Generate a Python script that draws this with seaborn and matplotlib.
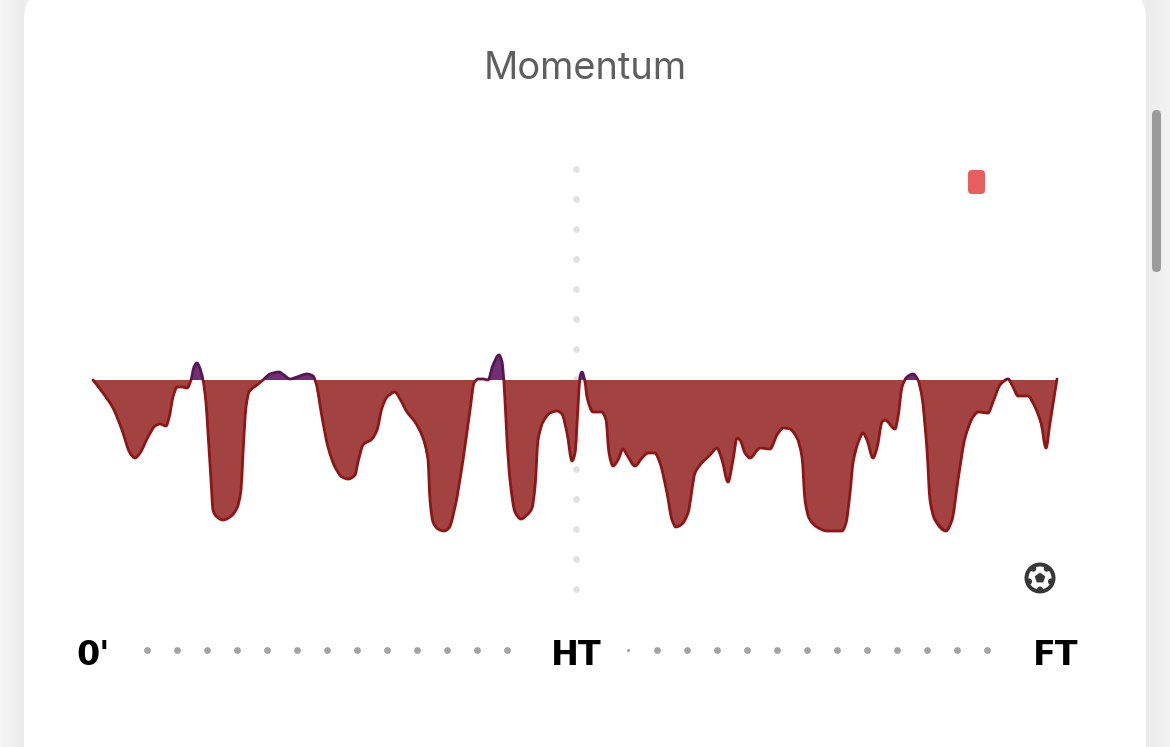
# Momentum chart from a match page, with the phone page chrome around it

import numpy as np
import pandas as pd
import matplotlib
matplotlib.use("Agg")
import matplotlib.pyplot as plt
import seaborn as sns
from matplotlib.patches import Circle, FancyBboxPatch, PathPatch, Rectangle, RegularPolygon
from matplotlib.path import Path

minutes = [
    0.0, 1.0, 2.0, 2.9, 3.7, 4.2, 4.7, 5.5, 6.2, 6.7, 7.3, 7.6, 8.0, 8.4, 8.9, 9.4, 9.8,
    10.1, 10.4, 10.6, 11.0, 11.3, 11.5, 11.8, 12.0, 12.4, 13.0, 13.7, 14.4, 14.8, 15.0,
    15.3, 15.6, 16.4, 17.0, 17.7, 18.6, 19.1, 19.7, 20.4, 21.4, 22.0, 22.3, 22.9, 23.5,
    24.2, 24.9, 25.5, 26.2, 26.5, 27.0, 27.9, 28.4, 28.9, 29.4, 30.2, 30.7, 31.4, 32.2,
    33.0, 33.5, 33.7, 34.0, 34.5, 35.1, 35.6, 36.2, 37.0, 37.7, 38.1, 38.5, 39.0, 39.5,
    40.0, 40.6, 40.9, 41.1, 41.4, 41.7, 42.2, 42.8, 43.4, 43.9, 44.2, 44.5, 45.0, 45.7,
    46.4, 46.9, 47.4, 47.9, 48.2, 48.5, 48.7, 48.9, 49.2, 49.4, 50.0, 50.9, 51.3, 51.6,
    52.0, 52.5, 53.0, 53.4, 54.2, 54.9, 55.5, 56.2, 56.7, 57.4, 57.9, 58.3, 58.9, 59.5,
    60.2, 60.7, 61.7, 62.4, 62.9, 63.5, 64.0, 64.4, 64.7, 65.2, 65.7, 66.7, 67.7, 68.4,
    69.0, 69.7, 70.4, 70.9, 71.2, 71.6, 72.4, 73.4, 74.9, 75.3, 75.7, 76.0, 76.5, 77.0,
    77.4, 78.0, 78.4, 78.9, 79.2, 80.2, 80.5, 80.9, 81.4, 82.0, 82.5, 82.9, 83.4, 83.7,
    84.2, 85.3, 85.9, 86.5, 87.2, 88.0, 88.5, 89.5, 90.0, 90.7, 91.5, 92.0, 92.5, 93.5,
    94.2, 94.8, 95.3, 95.7, 96.4,
]
momentum = [
    0, -6.5, -14, -25, -36.5, -39, -36.5, -28.5, -23, -22, -23, -19, -8.5, -3.5, -3.5, -4, 0,
    6.5, 8.5, 7, 0, -11.5, -26.5, -50, -65, -68.5, -70, -68.5, -64, -55, -36.5,
    -13.5, -6, -2.5, 0, 3, 4, 2.5, 0.5, 1.5, 3, 2, -1.5, -18.5, -33.5,
    -43.5, -48.5, -49.5, -47.5, -41, -32.5, -29.5, -25, -14, -8.5, -6, -9.5, -16, -21,
    -29, -40, -60, -71, -74.5, -75.5, -74, -63.5, -40, -15, -1.5, 0.5, 0.5, 0,
    7.5, 12.5, 9, -1.5, -30, -50, -66, -69.5, -67.5, -64, -53.5, -30, -21, -16.5,
    -15.5, -17, -26.5, -40.5, -36.5, -13.5, 1.5, 4, -1, -8.5, -16, -16, -20, -36.5,
    -43, -40, -34.5, -37.5, -43, -39, -36.5, -36.5, -41.5, -56.5, -70, -73.5, -72, -66.5,
    -46.5, -42.5, -37.5, -34, -40, -51, -40, -29, -30, -36.5, -39, -34, -34.5, -27.5,
    -24, -24.5, -29, -38.5, -60, -69, -73.5, -75.5, -75.5, -71.5, -56.5, -41.5, -31.5, -26.5,
    -30, -39, -34, -21, -20, -24.5, -18.5, -3.5, 1.5, 3, 0, -8.5, -35, -60,
    -70, -75.5, -70, -50, -29, -18.5, -16, -16.5, -11, -2.5, 0.5, -3.5, -8, -8,
    -13.5, -21.5, -34, -21.5, 0.5,
]
tick_positions = [0, 48.3, 96.3]
tick_labels = ["0'", "HT", "FT"]
chart_title = "Momentum"

AWAY_FILL = "#a34341"
AWAY_LINE = "#8e1616"
HOME_FILL = "#702f70"
HOME_LINE = "#551655"

W, H = 1170, 747


def smooth_vertices(x, y):
    # monotone cubic through the points, the way the site draws its curve
    x, y = np.asarray(x, float), np.asarray(y, float)
    dx = np.diff(x)
    slope = np.diff(y) / dx
    tangent = np.zeros(len(x))
    for i in range(1, len(x) - 1):
        if slope[i - 1] * slope[i] > 0:
            w1, w2 = 2 * dx[i] + dx[i - 1], dx[i] + 2 * dx[i - 1]
            tangent[i] = (w1 + w2) / (w1 / slope[i - 1] + w2 / slope[i])
    tangent[0], tangent[-1] = slope[0], slope[-1]
    verts, codes = [(x[0], y[0])], [Path.MOVETO]
    for i in range(len(dx)):
        verts += [(x[i] + dx[i] / 3, y[i] + tangent[i] * dx[i] / 3),
                  (x[i + 1] - dx[i] / 3, y[i + 1] - tangent[i + 1] * dx[i] / 3),
                  (x[i + 1], y[i + 1])]
        codes += [Path.CURVE4] * 3
    return verts, codes


df = pd.DataFrame({"minute": minutes, "momentum": momentum})

sns.set_theme(style="white")
plt.rcParams["font.family"] = ["DejaVu Sans"]

fig = plt.figure(figsize=(W / 100, H / 100), dpi=100, facecolor="#eeeeee")

# page chrome, in pixel coordinates
ui = fig.add_axes([0, 0, 1, 1], zorder=0)
ui.imshow(np.linspace(0.965, 0.915, 24).reshape(1, -1), cmap="gray", vmin=0, vmax=1,
          extent=(0, 24, H, 0), aspect="auto", zorder=0)
ui.imshow(np.linspace(0.92, 0.95, 24).reshape(1, -1), cmap="gray", vmin=0, vmax=1,
          extent=(1146, W, H, 0), aspect="auto", zorder=0)
ui.set_xlim(0, W)
ui.set_ylim(H, 0)
ui.axis("off")
ui.add_patch(FancyBboxPatch((24, -12), 1122, 900, boxstyle="round,pad=0,rounding_size=32",
                            fc="white", ec="none", zorder=1))
ui.add_patch(FancyBboxPatch((1152, 110), 9, 162, boxstyle="round,pad=0,rounding_size=4.5",
                            fc="#9b9b9b", ec="none", zorder=1))

# dotted timeline between the labels
timeline_x = np.concatenate([np.arange(147, 508, 30), np.arange(657, 988, 30)])
ui.scatter(timeline_x, np.full(len(timeline_x), 650), s=24, color="#a3a3a3", linewidths=0, zorder=2)
ui.scatter([628], [650], s=5, color="#a3a3a3", linewidths=0, zorder=2)

# red card and goal markers
ui.add_patch(FancyBboxPatch((968, 170), 17, 24, boxstyle="round,pad=0,rounding_size=4",
                            fc="#e85d5d", ec="none", zorder=2))
ui.add_patch(Circle((1040, 578), 15.5, fc="#383838", ec="none", zorder=2))
ui.add_patch(Circle((1040, 578), 11.5, fc="white", ec="none", zorder=3))
ui.add_patch(RegularPolygon((1040, 578), 5, radius=5.5, orientation=np.pi, fc="#383838", ec="none", zorder=4))
for k in range(5):
    angle = np.deg2rad(90 + 72 * k)
    ui.add_patch(Circle((1040 + 11.5 * np.cos(angle), 578 + 11.5 * np.sin(angle)), 3,
                        fc="#383838", ec="none", zorder=4))

# chart axes: 10 px per minute, 2 px per momentum unit
ax = fig.add_axes([93 / W, 1 - 590 / H, 964 / W, 422 / H], zorder=1)
ax.patch.set_alpha(0)
ax.set_xlim(0, 96.4)
ax.set_ylim(-105, 106)

ax.scatter(np.full(15, 48.3), np.arange(105.5, -105, -15), s=24, color="#e2e2e2",
           linewidths=0, zorder=1, clip_on=False)

# thin base line from seaborn, the smooth curve sits on top of it
sns.lineplot(data=df, x="minute", y="momentum", estimator=None, sort=False, color=AWAY_LINE,
             linewidth=0.8, ax=ax, zorder=3)
ax.lines[-1].set_clip_path(Rectangle((-1, -105), 98.4, 105, transform=ax.transData))

verts, codes = smooth_vertices(df["minute"], df["momentum"])
fill_verts = verts + [(df["minute"].iloc[-1], 0), (df["minute"].iloc[0], 0), verts[0]]
fill_codes = codes + [Path.LINETO, Path.LINETO, Path.CLOSEPOLY]

for fill_color, line_color, bottom, height in [(AWAY_FILL, AWAY_LINE, -105, 105),
                                               (HOME_FILL, HOME_LINE, 0, 106)]:
    patch = PathPatch(Path(fill_verts, fill_codes), fc=fill_color, ec="none", zorder=2)
    ax.add_patch(patch)
    patch.set_clip_path(Rectangle((-1, bottom), 98.4, height, transform=ax.transData))
    curve = PathPatch(Path(verts, codes), fc="none", ec=line_color, lw=2.0, zorder=4,
                      joinstyle="round", capstyle="round")
    ax.add_patch(curve)
    curve.set_clip_path(Rectangle((-1, bottom), 98.4, height, transform=ax.transData))

ax.set_xlabel("")
ax.set_ylabel("")
ax.set_yticks([])
ax.set_xticks(tick_positions)
ax.set_xticklabels(tick_labels, fontsize=24, fontweight="bold", color="black")
ax.tick_params(axis="x", length=0, pad=35)
sns.despine(ax=ax, left=True, bottom=True)

ax.set_title(chart_title, x=(585 - 93) / 964, pad=64, fontsize=27.4, color="#5f5f5f",
             fontfamily="Inter")

fig.savefig("out.png", dpi=100)
